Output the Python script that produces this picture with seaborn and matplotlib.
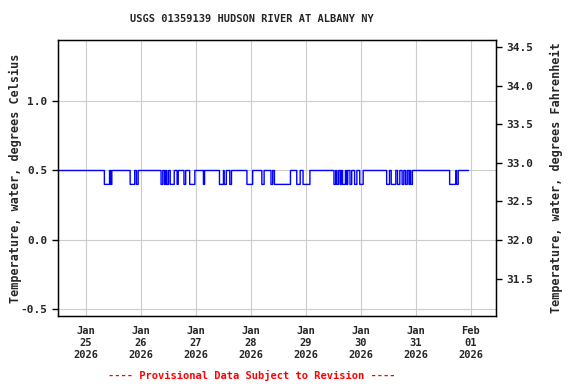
import matplotlib
matplotlib.use("Agg")
import matplotlib.pyplot as plt
import numpy as np
import pandas as pd
import seaborn as sns

# Hudson River at Albany: water temperature, 15-minute readings
# values sit at 0.5 C with short drops to 0.4 C, listed below as intervals
data_start = "2026-01-24 11:45"
data_end = "2026-01-31 23:00"
base_value = 0.5
low_value = 0.4

low_start = [
    "2026-01-25 08:00", "2026-01-25 10:45", "2026-01-25 19:15", "2026-01-25 22:00",
    "2026-01-26 08:45", "2026-01-26 10:15", "2026-01-26 11:15", "2026-01-26 12:45",
    "2026-01-26 15:45", "2026-01-26 18:45", "2026-01-26 21:15", "2026-01-27 03:15",
    "2026-01-27 10:15", "2026-01-27 12:15", "2026-01-27 14:45", "2026-01-27 22:15",
    "2026-01-28 04:45", "2026-01-28 08:45", "2026-01-28 10:15", "2026-01-28 20:00",
    "2026-01-28 22:45", "2026-01-29 12:15", "2026-01-29 13:30", "2026-01-29 15:00",
    "2026-01-29 16:00", "2026-01-29 17:45", "2026-01-29 19:15", "2026-01-29 21:15",
    "2026-01-29 23:30", "2026-01-30 11:15", "2026-01-30 13:15", "2026-01-30 16:00",
    "2026-01-30 18:00", "2026-01-30 19:30", "2026-01-30 21:00", "2026-01-30 21:45",
    "2026-01-31 14:45", "2026-01-31 17:45",
]
low_end = [
    "2026-01-25 10:15", "2026-01-25 11:15", "2026-01-25 21:15", "2026-01-25 22:45",
    "2026-01-26 09:30", "2026-01-26 10:45", "2026-01-26 12:00", "2026-01-26 14:30",
    "2026-01-26 16:15", "2026-01-26 19:30", "2026-01-26 23:30", "2026-01-27 03:45",
    "2026-01-27 12:00", "2026-01-27 13:15", "2026-01-27 15:30", "2026-01-28 00:45",
    "2026-01-28 05:45", "2026-01-28 09:30", "2026-01-28 17:15", "2026-01-28 21:30",
    "2026-01-29 01:45", "2026-01-29 13:00", "2026-01-29 14:15", "2026-01-29 15:30",
    "2026-01-29 17:15", "2026-01-29 18:15", "2026-01-29 20:00", "2026-01-29 22:15",
    "2026-01-30 01:00", "2026-01-30 12:30", "2026-01-30 15:15", "2026-01-30 17:00",
    "2026-01-30 18:45", "2026-01-30 20:15", "2026-01-30 21:30", "2026-01-30 22:30",
    "2026-01-31 17:30", "2026-01-31 18:30",
]

x_ticks = ["2026-01-25", "2026-01-26", "2026-01-27", "2026-01-28",
           "2026-01-29", "2026-01-30", "2026-01-31", "2026-02-01"]
x_tick_labels = ["Jan\n25\n2026", "Jan\n26\n2026", "Jan\n27\n2026", "Jan\n28\n2026",
                 "Jan\n29\n2026", "Jan\n30\n2026", "Jan\n31\n2026", "Feb\n01\n2026"]
c_ticks = [-0.5, 0.0, 0.5, 1.0]
f_ticks = [31.5, 32.0, 32.5, 33.0, 33.5, 34.0, 34.5]

# build the 15-minute series from the intervals
times = pd.date_range(data_start, data_end, freq="15min")
values = np.full(len(times), base_value)
for s, e in zip(low_start, low_end):
    mask = (times >= pd.Timestamp(s)) & (times < pd.Timestamp(e))
    values[mask] = low_value
df = pd.DataFrame({"time": times, "temp": values})

sns.set_style("whitegrid", {"grid.color": "#cccccc", "axes.edgecolor": "black"})
plt.rcParams["font.family"] = ["DejaVu Sans Mono"]
plt.rcParams["font.weight"] = "bold"
fs = 7.5
lab_fs = 8.5

fig = plt.figure(figsize=(5.76, 3.84), dpi=100)
ax = fig.add_axes([58 / 576, 1 - 316 / 384, 438 / 576, 276 / 384])

sns.lineplot(data=df, x="time", y="temp", ax=ax, color="#0000ff",
             linewidth=1.0, drawstyle="steps-post")

ax.set_xlim(pd.Timestamp("2026-01-24 11:45"), pd.Timestamp("2026-02-01 11:00"))
ax.set_ylim(-0.547, 1.439)
ax.set_xticks(pd.to_datetime(x_ticks))
ax.set_xticklabels(x_tick_labels, fontsize=fs, fontweight="bold", linespacing=1.25)
ax.set_yticks(c_ticks)
ax.set_yticklabels([f"{v:.1f}" for v in c_ticks], fontsize=8, fontweight="bold")
ax.set_xlabel("")
ax.set_ylabel("Temperature, water, degrees Celsius", fontsize=lab_fs,
              fontweight="bold", labelpad=-1)
ax.tick_params(axis="both", length=4, width=1, color="black", direction="out")
for sp in ax.spines.values():
    sp.set_linewidth(1)
    sp.set_color("black")

ax2 = ax.twinx()
lo, hi = ax.get_ylim()
ax2.set_ylim(lo * 1.8 + 32, hi * 1.8 + 32)
ax2.set_yticks(f_ticks)
ax2.set_yticklabels([f"{v:.1f}" for v in f_ticks], fontsize=8, fontweight="bold")
ax2.grid(False)
ax2.set_ylabel("Temperature, water, degrees Fahrenheit", fontsize=lab_fs,
               fontweight="bold", labelpad=12)
ax2.tick_params(axis="y", length=4, width=1, color="black", direction="out")

fig.text(252 / 576, 1 - 19 / 384, "USGS 01359139 HUDSON RIVER AT ALBANY NY",
         ha="center", va="center", fontsize=fs, fontweight="bold")
fig.text(252 / 576, 1 - 375 / 384, "---- Provisional Data Subject to Revision ----",
         ha="center", va="center", fontsize=fs, fontweight="bold", color="red")

fig.savefig("out.png", dpi=100)
